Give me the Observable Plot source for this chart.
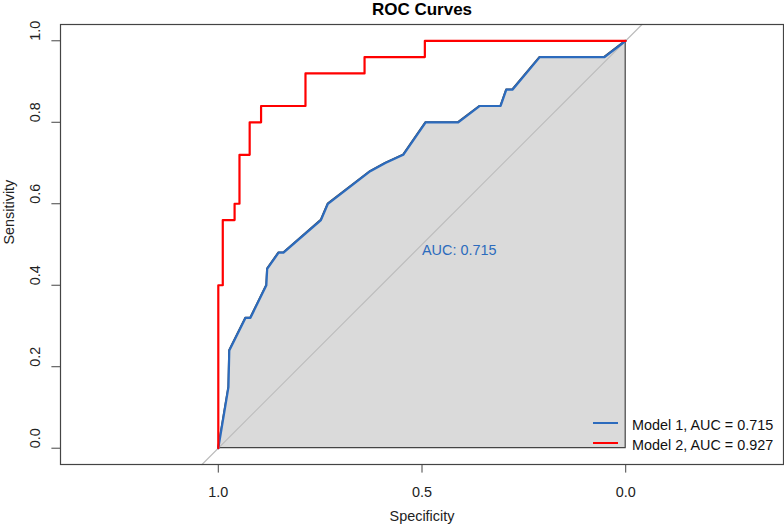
<!DOCTYPE html>
<html>
<head>
<meta charset="utf-8">
<script src="https://cdn.jsdelivr.net/npm/d3@7"></script>
<script src="https://cdn.jsdelivr.net/npm/@observablehq/plot@0.6"></script>
<style>
  html, body { margin: 0; padding: 0; background: #fff; }
</style>
</head>
<body>
<div id="chart"></div>
<script>
// ROC coordinates (specificity, sensitivity) for each model
const model1Spec = [1.0, 0.975, 0.973, 0.933, 0.921, 0.882, 0.880, 0.852, 0.840, 0.748, 0.731, 0.627, 0.590, 0.546, 0.491, 0.411, 0.358, 0.307, 0.293, 0.278, 0.211, 0.052, 0.0];
const model1Sens = [0.0, 0.15, 0.24, 0.32, 0.32, 0.40, 0.44, 0.48, 0.48, 0.56, 0.60, 0.68, 0.70, 0.72, 0.80, 0.80, 0.84, 0.84, 0.88, 0.88, 0.96, 0.96, 1.0];

const model2Spec = [1.0, 1.0, 0.989, 0.989, 0.960, 0.960, 0.948, 0.948, 0.923, 0.923, 0.895, 0.895, 0.786, 0.786, 0.641, 0.641, 0.493, 0.493, 0.0];
const model2Sens = [0.0, 0.40, 0.40, 0.56, 0.56, 0.60, 0.60, 0.72, 0.72, 0.80, 0.80, 0.84, 0.84, 0.92, 0.92, 0.96, 0.96, 1.0, 1.0];

const modelNames = ["Model 1", "Model 2"];
const aucValues = [0.715, 0.927];
const modelColors = ["#2c6bbd", "#ff0000"];

const xTicks = [1.0, 0.5, 0.0];
const yTicks = [0.0, 0.2, 0.4, 0.6, 0.8, 1.0];

const model1 = model1Spec.map((s, i) => ({spec: s, sens: model1Sens[i]}));
const model2 = model2Spec.map((s, i) => ({spec: s, sens: model2Sens[i]}));
const legendEntries = modelNames.map((name, i) => ({
  label: `${name}, AUC = ${aucValues[i].toFixed(3)}`,
  color: modelColors[i]
}));

const width = 784, height = 526;
const margin = {top: 24, right: 1, bottom: 62, left: 60};
const fmt = d3.format(".1f");

// sensitivity axis extended by 4%, specificity axis widened so one unit is equal on both
const yDomain = [-0.04, 1.04];
const innerW = width - margin.left - margin.right;
const innerH = height - margin.top - margin.bottom;
const xHalf = innerW / innerH * (yDomain[1] - yDomain[0]) / 2;
const xDomain = [0.5 + xHalf, 0.5 - xHalf];

// chance diagonal spanning the plotting region
const diagonal = yDomain.map(y => ({spec: 1 - y, sens: y}));

function legend(index, scales, values, dims) {
  const right = dims.width - dims.marginRight;
  const bottom = dims.height - dims.marginBottom;
  const g = d3.create("svg:g");
  legendEntries.forEach((e, i) => {
    const y = bottom - 41 + i * 20;
    g.append("line")
      .attr("x1", right - 190).attr("x2", right - 165)
      .attr("y1", y).attr("y2", y)
      .attr("stroke", e.color).attr("stroke-width", 2);
    g.append("text")
      .attr("x", right - 151).attr("y", y + 7.2)
      .attr("text-anchor", "start").attr("fill", "#111")
      .text(e.label);
  });
  return g.node();
}

const chart = Plot.plot({
  width, height,
  marginTop: margin.top, marginRight: margin.right,
  marginBottom: margin.bottom, marginLeft: margin.left,
  style: {fontFamily: "'Liberation Sans', Arial, sans-serif", fontSize: "14.4px", color: "#222", background: "#fff"},
  x: {domain: xDomain, axis: null},
  y: {domain: yDomain, axis: null},
  marks: [
    Plot.areaY(model1, {x: "spec", y: "sens", fill: "#dadada", stroke: "#444", strokeWidth: 1.2}),
    Plot.line(diagonal, {x: "spec", y: "sens", stroke: "#bdbdbd", strokeWidth: 1.2}),
    Plot.line(model1, {x: "spec", y: "sens", stroke: modelColors[0], strokeWidth: 2.2}),
    Plot.line(model2, {x: "spec", y: "sens", stroke: modelColors[1], strokeWidth: 2.2}),
    Plot.text([`AUC: ${aucValues[0].toFixed(3)}`], {x: 0.5, y: 0.5, text: d => d, textAnchor: "start", lineAnchor: "top", fill: modelColors[0]}),
    Plot.frame({stroke: "#444", strokeWidth: 1.2}),
    Plot.axisX({ticks: xTicks, tickFormat: fmt, tickSize: 8.6, tickPadding: 13.4, label: null, stroke: "#444"}),
    Plot.axisY({ticks: yTicks, tickFormat: () => "", tickSize: 8.6, label: null, stroke: "#444"}),
    Plot.text(yTicks, {y: d => d, text: d => fmt(d), frameAnchor: "left", dx: -20.7, rotate: -90, lineAnchor: "bottom", fill: "#222"}),
    Plot.text(["Specificity"], {text: d => d, frameAnchor: "bottom", dy: 56.7, lineAnchor: "bottom", fill: "#222"}),
    Plot.text(["Sensitivity"], {text: d => d, frameAnchor: "left", dx: -47, rotate: -90, lineAnchor: "bottom", fill: "#222"}),
    Plot.text(["ROC Curves"], {text: d => d, frameAnchor: "top", dy: -9.5, lineAnchor: "bottom", fontWeight: "bold", fontSize: 17, fill: "#000"}),
    legend
  ]
});

document.getElementById("chart").appendChild(chart);
</script>
</body>
</html>
